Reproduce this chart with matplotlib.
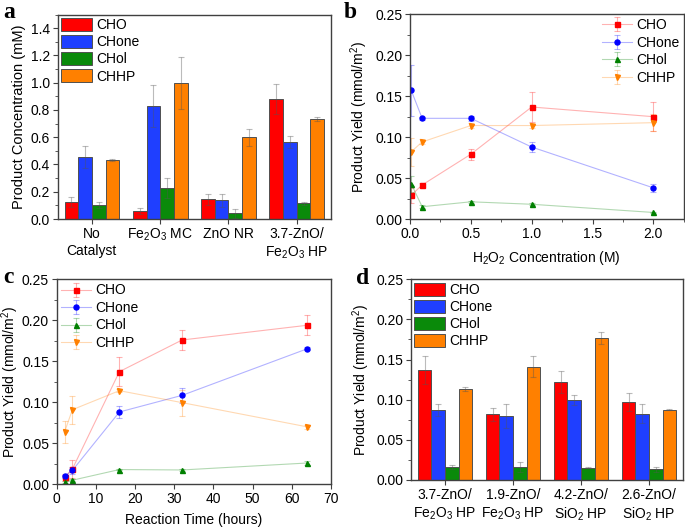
import numpy as np
import matplotlib
matplotlib.use('Agg')
import matplotlib.pyplot as plt
from matplotlib.ticker import MultipleLocator

plt.rcParams['font.family'] = ['Liberation Sans', 'DejaVu Sans']
plt.rcParams['mathtext.default'] = 'regular'
plt.rcParams['font.size'] = 10

SERIES = ['CHO', 'CHone', 'CHol', 'CHHP']
BAR_COLORS = ['#FF0000', '#1F3FFF', '#0A8A0A', '#FF8000']
MARK_COLORS = ['#FF0000', '#0000FF', '#008000', '#FF8000']
MARKERS = ['s', 'o', '^', 'v']

# panel a: product concentration (mM)
a_cats = ['No\nCatalyst', 'Fe$_2$O$_3$ MC', 'ZnO NR', '3.7-ZnO/\nFe$_2$O$_3$ HP']
a_vals = [[0.125, 0.056, 0.144, 0.881],
          [0.455, 0.827, 0.137, 0.565],
          [0.100, 0.228, 0.042, 0.115],
          [0.431, 0.999, 0.600, 0.734]]
a_errs = [[0.034, 0.022, 0.039, 0.113],
          [0.078, 0.154, 0.046, 0.042],
          [0.022, 0.071, 0.034, 0.012],
          [0.007, 0.190, 0.064, 0.012]]

# panel b: yield vs H2O2 concentration
b_x = [0.01, 0.1, 0.5, 1.0, 2.0]
b_vals = [[0.029, 0.0415, 0.079, 0.1366, 0.1248],
          [0.157, 0.1228, 0.1228, 0.0878, 0.038],
          [0.043, 0.015, 0.021, 0.018, 0.008],
          [0.082, 0.094, 0.114, 0.114, 0.1175]]
b_errs = [[0.009, 0.002, 0.007, 0.018, 0.0175],
          [0.031, 0.002, 0.003, 0.006, 0.005],
          [0.010, 0.002, 0.001, 0.001, 0.001],
          [0.017, 0.003, 0.003, 0.003, 0.010]]

# panel c: yield vs reaction time
c_x = [2, 4, 16, 32, 64]
c_vals = [[0.0085, 0.0187, 0.1374, 0.176, 0.194],
          [0.0098, 0.017, 0.0882, 0.1085, 0.1654],
          [0.003, 0.005, 0.018, 0.0175, 0.026],
          [0.0638, 0.091, 0.1142, 0.0996, 0.070]]
c_errs = [[0.004, 0.011, 0.0175, 0.012, 0.012],
          [0.002, 0.004, 0.007, 0.009, 0.002],
          [0.001, 0.001, 0.001, 0.001, 0.003],
          [0.014, 0.017, 0.002, 0.016, 0.002]]

# panel d: yield per catalyst
d_cats = ['3.7-ZnO/\nFe$_2$O$_3$ HP', '1.9-ZnO/\nFe$_2$O$_3$ HP',
          '4.2-ZnO/\nSiO$_2$ HP', '2.6-ZnO/\nSiO$_2$ HP']
d_vals = [[0.137, 0.0818, 0.1217, 0.097],
          [0.0872, 0.080, 0.0993, 0.0826],
          [0.0162, 0.0162, 0.0154, 0.0133],
          [0.1134, 0.141, 0.1765, 0.0876]]
d_errs = [[0.017, 0.008, 0.0137, 0.0116],
          [0.007, 0.015, 0.006, 0.0116],
          [0.002, 0.006, 0.001, 0.0033],
          [0.002, 0.013, 0.0075, 0.001]]

YIELD_LABEL = 'Product Yield (mmol/m$^2$)'


def style_axes(ax):
    for s in ax.spines.values():
        s.set_color('#404040')
        s.set_linewidth(1.0)
    ax.tick_params(which='both', direction='out', top=False, right=False,
                   color='#404040', labelsize=10, pad=2)
    ax.tick_params(which='major', length=3.5, width=0.8)
    ax.tick_params(which='minor', length=2, width=0.6)


def bar_panel(ax, cats, vals, errs):
    x = np.arange(len(cats))
    w = 0.2
    for i in range(len(SERIES)):
        ax.bar(x + (i - 1.5) * w, vals[i], w, yerr=errs[i], color=BAR_COLORS[i],
               edgecolor='#505050', linewidth=0.7, label=SERIES[i],
               error_kw=dict(ecolor='#555555', alpha=0.4, elinewidth=0.8,
                             capsize=2, capthick=0.8))
    ax.set_xticks(x)
    ax.set_xticklabels(cats, linespacing=1.3)
    ax.set_xlim(-0.5, 3.5)
    ax.legend(loc='upper left', frameon=False, handlelength=2.2, handleheight=1.08,
              labelspacing=0.2, handletextpad=0.3, borderaxespad=0.15, borderpad=0.1,
              fontsize=10)


def line_panel(ax, xs, vals, errs, loc):
    for i in range(len(SERIES)):
        c = matplotlib.colors.to_rgb(MARK_COLORS[i])
        ax.errorbar(xs, vals[i], yerr=errs[i], color=c + (0.3,), lw=0.8,
                    marker=MARKERS[i], ms=3.6, mfc=MARK_COLORS[i], mec=MARK_COLORS[i],
                    ecolor=c + (0.3,), elinewidth=0.8, capsize=2, capthick=0.8,
                    label=SERIES[i])
    ax.set_ylim(0, 0.25)
    ax.yaxis.set_major_locator(MultipleLocator(0.05))
    ax.yaxis.set_minor_locator(MultipleLocator(0.025))
    ax.legend(loc=loc, frameon=False, handlelength=2.2, labelspacing=0.25,
              handletextpad=0.3, borderaxespad=0.2, borderpad=0.1, fontsize=10)


fig = plt.figure(figsize=(6.85, 5.27), dpi=100)
axa = fig.add_axes([0.0842, 0.5844, 0.399, 0.388])
axb = fig.add_axes([0.5985, 0.5844, 0.3997, 0.389])
axc = fig.add_axes([0.0828, 0.081, 0.4004, 0.389])
axd = fig.add_axes([0.600, 0.0892, 0.397, 0.381])

# a
bar_panel(axa, a_cats, a_vals, a_errs)
axa.set_ylim(0, 1.5)
axa.yaxis.set_major_locator(MultipleLocator(0.2))
axa.yaxis.set_minor_locator(MultipleLocator(0.1))
axa.set_ylabel('Product Concentration (mM)', fontsize=10.5, labelpad=3)
style_axes(axa)

# b
line_panel(axb, b_x, b_vals, b_errs, 'upper right')
axb.set_xlim(0, 2.25)
axb.xaxis.set_major_locator(MultipleLocator(0.5))
axb.xaxis.set_minor_locator(MultipleLocator(0.25))
axb.set_ylabel(YIELD_LABEL, fontsize=10, labelpad=4)
axb.set_xlabel('H$_2$O$_2$ Concentration (M)', fontsize=10, labelpad=6)
style_axes(axb)

# c
line_panel(axc, c_x, c_vals, c_errs, 'upper left')
axc.set_xlim(0, 70)
axc.xaxis.set_major_locator(MultipleLocator(10))
axc.set_ylabel(YIELD_LABEL, fontsize=10, labelpad=1)
axc.set_xlabel('Reaction Time (hours)', fontsize=10, labelpad=5)
style_axes(axc)

# d
bar_panel(axd, d_cats, d_vals, d_errs)
axd.set_ylim(0, 0.25)
axd.yaxis.set_major_locator(MultipleLocator(0.05))
axd.yaxis.set_minor_locator(MultipleLocator(0.025))
axd.set_ylabel(YIELD_LABEL, fontsize=10, labelpad=3)
style_axes(axd)

# panel letters
for lbl, (px, py) in zip('abcd', [(3, 18), (344, 18), (3, 283), (356, 284)]):
    fig.text(px / 685, 1 - py / 527, lbl, fontsize=17, fontweight='bold',
             family='Liberation Serif', va='baseline', ha='left')

fig.savefig('out.png', dpi=100)
